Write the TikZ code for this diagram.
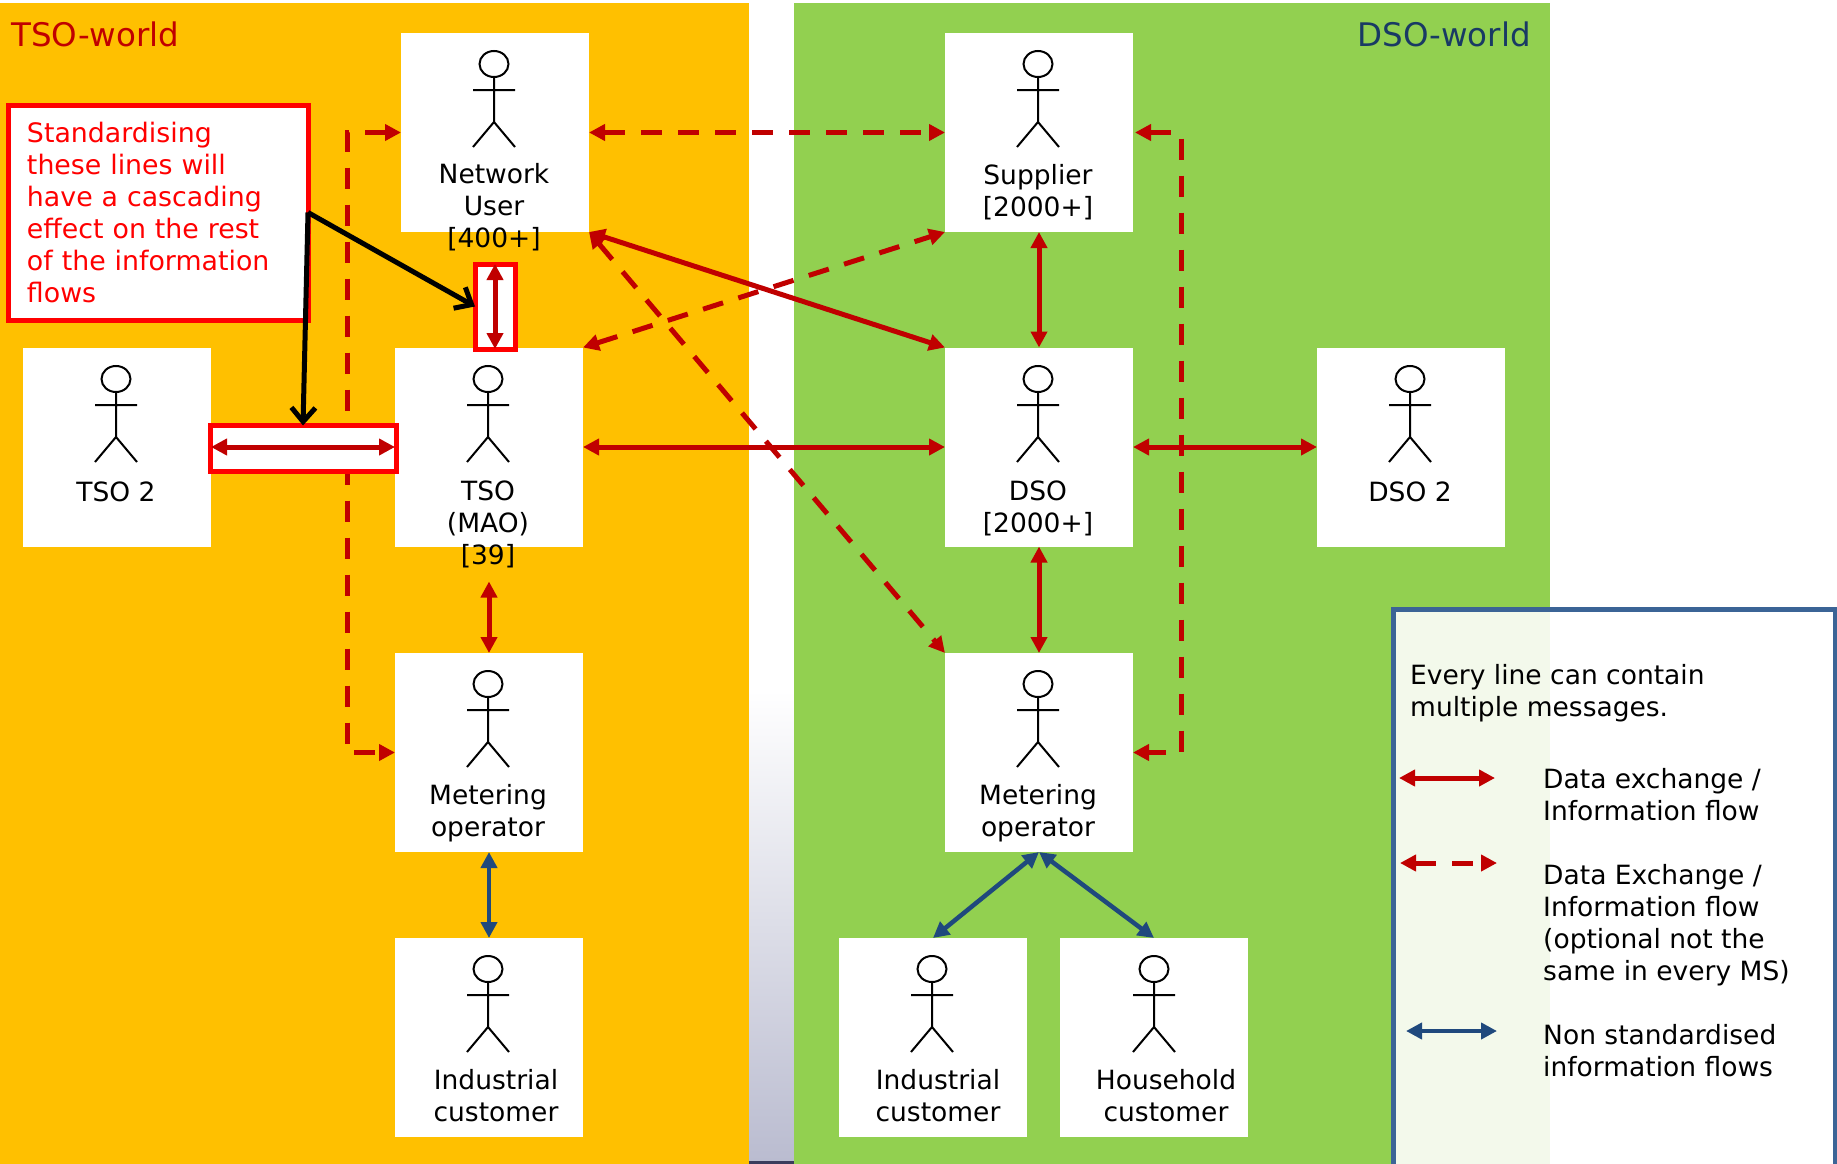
\documentclass[tikz,border=0pt]{standalone}
\usepackage{fontspec}
\setmainfont{DejaVu Sans}
\usepackage{tikz}
\usetikzlibrary{arrows.meta,calc}
\definecolor{tsoorange}{HTML}{FFC000}
\definecolor{dsogreen}{HTML}{92D050}
\definecolor{flowred}{HTML}{C00000}
\definecolor{flowblue}{HTML}{1F497D}
\definecolor{framblue}{HTML}{3B6496}
\definecolor{gapgrey}{HTML}{BABCD0}
\definecolor{gapline}{HTML}{3A3C5C}
\tikzstyle{actorbox} = [rectangle, fill=white, inner sep=0pt, outer sep=0pt, minimum width=188pt, minimum height=199pt]
\tikzstyle{boxlabel} = [align=center, inner sep=0pt, font=\fontsize{26.5pt}{32pt}\selectfont]
\tikzstyle{legendtext} = [align=left, anchor=west, inner sep=0pt, font=\fontsize{26.5pt}{32pt}\selectfont]
\tikzstyle{flow} = [line width=5pt, flowred, {Triangle[length=16pt,width=16pt]}-{Triangle[length=16pt,width=16pt]}]
\tikzstyle{dashflow} = [flow, dash pattern=on 21pt off 16pt]
\tikzstyle{blueflow} = [flow, line width=4.5pt, flowblue]
\tikzstyle{pointer} = [line width=5pt, black, -{Straight Barb[length=14pt,width=24pt]}]
\tikzstyle{focusbox} = [rectangle, draw=red, fill=white, line width=5pt, inner sep=0pt, outer sep=0pt]
\tikzset{
    actor/.pic={
        \draw [line width=2pt] (0,-18) ellipse (14.5pt and 13pt);
        \draw [line width=2pt] (0,-5) -- (0,40) (-21,8) -- (21,8) (-21,65) -- (0,40) -- (21,65);
    }
}
\begin{document}
\begin{tikzpicture}[x=1pt,y=-1pt]
        \useasboundingbox (0,0) rectangle (1837,1164);
        \fill [white] (0,0) rectangle (1837,1164);
        \shade [top color=white, bottom color=gapgrey] (749,690) rectangle (794,1161);
        \fill [gapline] (749,1161) rectangle (794,1164);
        \fill [tsoorange] (0,3) rectangle (749,1164);
        \fill [dsogreen] (794,3) rectangle (1550,1164);
        \node (tsoworld) [anchor=west, inner sep=0pt, flowred, font=\fontsize{32.5pt}{36pt}\selectfont] at (11,34) {TSO-world};
        \node (dsoworld) [anchor=east, inner sep=0pt, flowblue!80!black, font=\fontsize{32.5pt}{36pt}\selectfont] at (1531,34) {DSO-world};
        \node (nu) [actorbox] at (495,132.5) {};
        \node (su) [actorbox] at (1039,132.5) {};
        \node (ts2) [actorbox] at (117,447) {};
        \node (tso) [actorbox] at (489,447) {};
        \node (dso) [actorbox] at (1039,447) {};
        \node (ds2) [actorbox] at (1411,447) {};
        \node (mt) [actorbox] at (489,752.5) {};
        \node (md) [actorbox] at (1039,752.5) {};
        \node (ic1) [actorbox] at (489,1037.5) {};
        \node (ic2) [actorbox] at (933,1037.5) {};
        \node (hh) [actorbox] at (1154,1037.5) {};
        \foreach \x/\y in {494/82, 1038/82, 116/397, 488/397, 1038/397, 1410/397, 488/702, 1038/702, 488/987, 932/987, 1154/987}
            \pic at (\x,\y) {actor};
        \node (nulabel) [boxlabel] at (494,207) {Network\\User\\{[400+]}};
        \node (sulabel) [boxlabel] at (1038,192) {Supplier\\{[2000+]}};
        \node (ts2label) [boxlabel] at (116,492) {TSO 2};
        \node (tsolabel) [boxlabel] at (488,524) {TSO\\(MAO)\\{[39]}};
        \node (dsolabel) [boxlabel] at (1038,508) {DSO\\{[2000+]}};
        \node (ds2label) [boxlabel] at (1410,492) {DSO 2};
        \node (mtlabel) [boxlabel] at (488,813) {Metering\\operator};
        \node (mdlabel) [boxlabel] at (1038,813) {Metering\\operator};
        \node (ic1label) [boxlabel] at (496,1096) {Industrial\\customer};
        \node (ic2label) [boxlabel] at (938,1096) {Industrial\\customer};
        \node (hhlabel) [boxlabel] at (1166,1096) {Household\\customer};
        \draw [dashflow] (nu.west) -- ++(-54,0) |- (mt.west);
        \draw [dashflow, shorten <=2pt] (su.east) -- ++(48,0) |- (md.east);
        \draw [dashflow] (nu.east) -- (su.west);
        \draw [dashflow] (tso.north east) -- (su.south west);
        \draw [dashflow] (nu.south east) -- (md.north west);
        \draw [flow] (nu.south east) -- (dso.north west);
        \draw [flow] (tso.east) -- (dso.west);
        \draw [flow] (dso.east) -- (ds2.west);
        \draw [flow] (su.south) -- (dso.north);
        \draw [flow] (dso.south) -- (md.north);
        \draw [flow, shorten <=35pt] (tso.south) -- (mt.north);
        \draw [blueflow] (mt.south) -- (ic1.north);
        \draw [blueflow] (md.south) -- (ic2.north);
        \draw [blueflow] (md.south) -- (hh.north);
        \node (vbox) [focusbox, minimum width=40pt, minimum height=85pt] at (495,306.5) {};
        \node (hbox) [focusbox, minimum width=186pt, minimum height=46pt] at (303,448.5) {};
        \draw [flow] (vbox.north) -- (vbox.south);
        \draw [flow] (ts2.east) -- (tso.west);
        \node (note) [focusbox, text=red, minimum width=300pt, minimum height=215pt, inner xsep=19pt, text width=262pt, align=left, font=\fontsize{26.8pt}{32pt}\selectfont] at (158,212.5) {Standardising\\these lines will\\have a cascading\\effect on the rest\\of the information\\flows};
        \draw [pointer] (note.east) -- (vbox.west);
        \draw [pointer] (note.east) -- (hbox.north);
        \fill [white, fill opacity=0.89] (1393,609) rectangle (1835,1164);
        \draw [framblue, line width=5pt] (1393,1164) |- (1835,609) -- (1835,1164);
        \node (legendhead) [legendtext] at (1410,693.5) {Every line can contain\\multiple messages.};
        \node (legendsolid) [legendtext] at (1543,795) {Data exchange /\\Information flow};
        \node (legenddash) [legendtext] at (1543,925) {Data Exchange /\\Information flow\\(optional not the\\same in every MS)};
        \node (legendblue) [legendtext] at (1543,1051) {Non standardised\\information flows};
        \coordinate (sa) at (1399,778);
        \coordinate (sb) at (1495,778);
        \coordinate (da) at (1400,863);
        \coordinate (db) at (1497,863);
        \coordinate (ba) at (1406,1031);
        \coordinate (bb) at (1497,1031);
        \draw [flow] (sa) -- (sb);
        \draw [dashflow] (da) -- (db);
        \draw [blueflow] (ba) -- (bb);
    \end{tikzpicture}
\end{document}
